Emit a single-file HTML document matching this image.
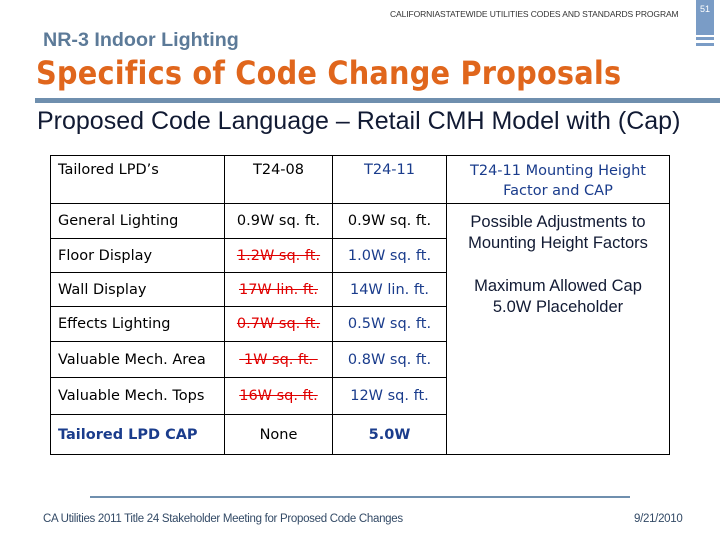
<!DOCTYPE html>
<html><head><meta charset="utf-8"><style>
body{margin:0;width:720px;height:540px;background:#fff;position:relative;overflow:hidden;font-family:"Liberation Sans",sans-serif}
.a{position:absolute}
table{position:absolute;left:50px;top:155px;width:619px;table-layout:fixed;border-collapse:collapse;font-family:"DejaVu Sans","Liberation Sans",sans-serif;font-size:14.5px;letter-spacing:0}
td{border:1.5px solid #000;padding:0 0 0 7px;white-space:nowrap;vertical-align:middle;overflow:hidden}
td.c{text-align:center;padding:0}
.s{color:#e00000;text-decoration:line-through;text-decoration-color:#e00000}
.b{color:#1a3c8c}
</style></head><body>
<div class="a" style="left:696px;top:0;width:18px;height:35px;background:#7a9cc6;color:#fff;font-size:9px;text-align:center;line-height:18px">51</div>
<div class="a" style="left:696px;top:37px;width:18px;height:3px;background:#7a9cc6"></div>
<div class="a" style="left:696px;top:43px;width:18px;height:3px;background:#7a9cc6"></div>
<div class="a" style="left:390px;top:9px;font-size:8.5px;color:#333;letter-spacing:-0.1px">CALIFORNIASTATEWIDE UTILITIES CODES AND STANDARDS PROGRAM</div>
<div class="a" style="left:43px;top:29px;font-size:19.7px;font-weight:bold;color:#5c7a98">NR-3 Indoor Lighting</div>
<div class="a" style="left:36px;top:54px;font-size:32px;font-weight:bold;color:#e0661c;font-family:'DejaVu Sans Condensed','DejaVu Sans',sans-serif;letter-spacing:0.2px">Specifics of Code Change Proposals</div>
<div class="a" style="left:35px;top:98px;width:685px;height:5px;background:#6f8fae"></div>
<div class="a" style="left:37px;top:107px;font-size:25px;color:#111a33">Proposed Code Language – Retail CMH Model with (Cap)</div>
<table>
<colgroup><col style="width:174px"><col style="width:108px"><col style="width:114px"><col style="width:223px"></colgroup>
<tr style="height:48px"><td style="vertical-align:top;padding-top:6px">Tailored LPD’s</td><td class="c" style="vertical-align:top;padding-top:6px">T24-08</td><td class="c b" style="vertical-align:top;padding-top:6px">T24-11</td><td class="c b" style="vertical-align:top;padding-top:5px;line-height:20px">T24-11 Mounting Height<br>Factor and CAP</td></tr>
<tr style="height:35px"><td>General Lighting</td><td class="c">0.9W sq. ft.</td><td class="c">0.9W sq. ft.</td>
<td rowspan="7" style="vertical-align:top;text-align:center;padding:8px 0 0 0;font-family:'Liberation Sans',sans-serif;font-size:16.5px;color:#111a33;line-height:21px;letter-spacing:0">Possible Adjustments to<br>Mounting Height Factors<br><div style="height:22px"></div>Maximum Allowed Cap<br>5.0W Placeholder</td></tr>
<tr style="height:34px"><td>Floor Display</td><td class="c"><span class="s">1.2W sq. ft.</span></td><td class="c b">1.0W sq. ft.</td></tr>
<tr style="height:34px"><td>Wall Display</td><td class="c"><span class="s">17W lin. ft.</span></td><td class="c b">14W lin. ft.</td></tr>
<tr style="height:35px"><td>Effects Lighting</td><td class="c"><span class="s">0.7W sq. ft.</span></td><td class="c b">0.5W sq. ft.</td></tr>
<tr style="height:36px"><td>Valuable Mech. Area</td><td class="c"><span class="s">&nbsp;1W sq. ft.&nbsp;</span></td><td class="c b">0.8W sq. ft.</td></tr>
<tr style="height:37px"><td>Valuable Mech. Tops</td><td class="c"><span class="s">16W sq. ft.</span></td><td class="c b">12W sq. ft.</td></tr>
<tr style="height:40px"><td class="b" style="font-weight:bold">Tailored LPD CAP</td><td class="c">None</td><td class="c b" style="font-weight:bold">5.0W</td></tr>
</table>
<div class="a" style="left:90px;top:496px;width:540px;height:2px;background:#6f8fae"></div>
<div class="a" style="left:43px;top:513px;font-size:11.5px;color:#334a66;letter-spacing:-0.3px">CA Utilities 2011 Title 24 Stakeholder Meeting for Proposed Code Changes</div>
<div class="a" style="left:634px;top:513px;font-size:11.5px;color:#334a66;letter-spacing:-0.3px">9/21/2010</div>
</body></html>
